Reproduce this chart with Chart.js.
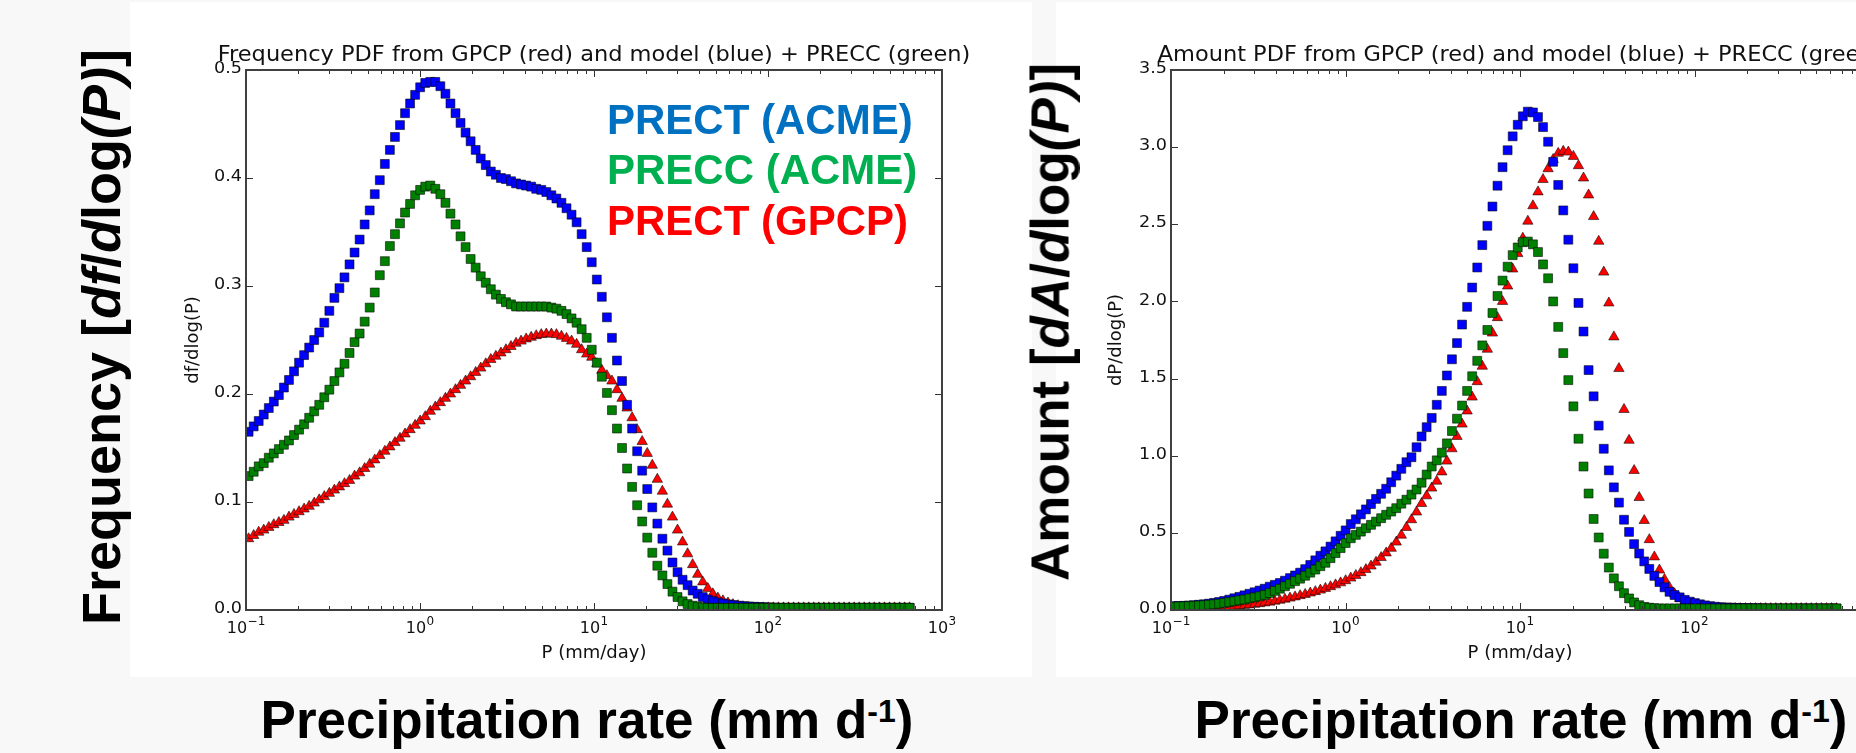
<!DOCTYPE html>
<html>
<head>
<meta charset="utf-8">
<script src="https://cdn.jsdelivr.net/npm/chart.js@4.4.0/dist/chart.umd.min.js"></script>
<style>
  html, body { margin: 0; padding: 0; width: 1856px; height: 753px; overflow: hidden; background: #f8f8f8; }
  .panel { position: absolute; background: #fff; }
  canvas { position: absolute; top: 0; }
  .big { position: absolute; font-family: 'Liberation Sans', Arial, sans-serif; font-weight: bold; line-height: 1; white-space: nowrap; color: #000; }
  .vert { transform: translate(-50%, -50%) rotate(-90deg); }
  .xlab { transform: translateX(-50%); }
  .big sup { font-size: 32px; vertical-align: 16px; line-height: 0; }
  .key { position: absolute; font-family: 'Liberation Sans', Arial, sans-serif; font-weight: bold; font-size: 42px; line-height: 1; white-space: nowrap; }
</style>
</head>
<body>
<div class="panel" style="left:130px; top:2px; width:902px; height:675px"></div>
<div class="panel" style="left:1056px; top:2px; width:800px; height:675px"></div>
<canvas id="freq" width="902" height="677" style="left:130px"></canvas>
<canvas id="amt" width="850" height="677" style="left:1056px"></canvas>

<div class="big vert" style="left:101px; top:337px; font-size:54px">Frequency [<i>df</i>/<i>d</i>log<i>(P)</i>]</div>
<div class="big vert" style="left:1050px; top:322px; font-size:53px">Amount [<i>dA</i>/<i>d</i>log<i>(P)</i>]</div>
<div class="big xlab" style="left:587px; top:693px; font-size:53px">Precipitation rate (mm d<sup>-1</sup>)</div>
<div class="big xlab" style="left:1521px; top:693px; font-size:53px">Precipitation rate (mm d<sup>-1</sup>)</div>

<div class="key" style="left:607px; top:99px; color:#0070C0">PRECT (ACME)</div>
<div class="key" style="left:607px; top:149px; color:#00B050">PRECC (ACME)</div>
<div class="key" style="left:607px; top:200px; color:#FF0000">PRECT (GPCP)</div>

<script>
// bin centres, mm/day
const pRate = [0.1035,0.1107,0.1183,0.1265,0.1352,0.1445,0.1545,0.1652,0.1766,0.1888,
  0.2018,0.2158,0.2307,0.2466,0.2636,0.2818,0.3013,0.3221,0.3443,0.3681,
  0.3936,0.4207,0.4498,0.4808,0.5140,0.5495,0.5875,0.6281,0.6714,0.7178,
  0.7674,0.8204,0.8770,0.9376,1.002,1.072,1.146,1.225,1.309,1.400,
  1.496,1.600,1.710,1.828,1.954,2.089,2.234,2.388,2.553,2.729,
  2.917,3.119,3.334,3.565,3.811,4.074,4.355,4.656,4.977,5.321,
  5.689,6.081,6.501,6.950,7.430,7.943,8.492,9.078,9.705,10.38,
  11.09,11.86,12.68,13.55,14.49,15.49,16.56,17.70,18.92,20.23,
  21.63,23.12,24.72,26.42,28.25,30.20,32.29,34.51,36.90,39.45,
  42.17,45.08,48.20,51.52,55.08,58.88,62.95,67.30,71.94,76.91,
  82.22,87.90,93.97,100.5,107.4,114.8,122.7,131.2,140.3,150.0,
  160.3,171.4,183.2,195.9,209.4,223.9,239.3,255.9,273.5,292.4,
  312.6,334.2,357.3,381.9,408.3,436.5,466.7,498.9,533.3,570.2,
  609.5,651.6];

// frequency pdf, df/dlog(P)
const freqPrectAcme = [0.165,0.170,0.175,0.181,0.187,0.193,0.199,0.206,0.213,0.221,
  0.229,0.236,0.243,0.250,0.257,0.266,0.277,0.289,0.298,0.308,
  0.320,0.331,0.343,0.357,0.370,0.385,0.398,0.413,0.426,0.438,
  0.449,0.460,0.469,0.477,0.484,0.488,0.489,0.489,0.485,0.478,
  0.469,0.460,0.451,0.442,0.434,0.426,0.418,0.412,0.406,0.403,
  0.400,0.399,0.397,0.395,0.394,0.393,0.392,0.390,0.389,0.387,
  0.384,0.381,0.377,0.372,0.366,0.359,0.348,0.336,0.322,0.306,
  0.290,0.271,0.252,0.231,0.212,0.190,0.168,0.147,0.129,0.112,
  0.095,0.080,0.066,0.055,0.044,0.035,0.028,0.023,0.018,0.015,
  0.012,0.0098,0.0082,0.0070,0.0060,0.0052,0.0046,0.0040,0.0036,0.0033,
  0.0030,0.0028,0.0026,0.0024,0.0022,0.0020,0.0020,0.0020,0.0020,0.0020,
  0.0020,0.0020,0.0020,0.0020,0.0020,0.0020,0.0020,0.0020,0.0020,0.0020,
  0.0020,0.0020,0.0020,0.0020,0.0020,0.0020,0.0020,0.0020,0.0020,0.0020,
  0.0020,0.0020];
const freqPreccAcme = [0.124,0.128,0.133,0.136,0.141,0.145,0.149,0.153,0.157,0.162,
  0.167,0.172,0.178,0.184,0.190,0.197,0.204,0.212,0.220,0.228,
  0.238,0.248,0.256,0.267,0.280,0.294,0.310,0.323,0.337,0.348,
  0.358,0.368,0.376,0.384,0.389,0.392,0.393,0.390,0.385,0.377,
  0.367,0.357,0.346,0.336,0.325,0.317,0.309,0.303,0.297,0.292,
  0.288,0.285,0.283,0.281,0.281,0.281,0.281,0.281,0.281,0.281,
  0.280,0.279,0.277,0.274,0.270,0.266,0.260,0.252,0.241,0.229,
  0.216,0.201,0.185,0.168,0.150,0.131,0.114,0.097,0.082,0.067,
  0.053,0.041,0.032,0.024,0.017,0.012,0.008,0.0055,0.0040,0.0030,
  0.0025,0.0020,0.0020,0.0020,0.0020,0.0020,0.0020,0.0020,0.0020,0.0020,
  0.0020,0.0020,0.0020,0.0020,0.0020,0.0020,0.0020,0.0020,0.0020,0.0020,
  0.0020,0.0020,0.0020,0.0020,0.0020,0.0020,0.0020,0.0020,0.0020,0.0020,
  0.0020,0.0020,0.0020,0.0020,0.0020,0.0020,0.0020,0.0020,0.0020,0.0020,
  0.0020,0.0020];
const freqPrectGpcp = [0.066,0.069,0.072,0.074,0.0765,0.079,0.081,0.083,0.086,0.0885,
  0.091,0.0935,0.096,0.099,0.102,0.105,0.108,0.111,0.114,0.117,
  0.120,0.124,0.127,0.131,0.135,0.139,0.143,0.147,0.151,0.155,
  0.159,0.163,0.167,0.171,0.175,0.179,0.184,0.188,0.192,0.196,
  0.200,0.204,0.208,0.212,0.216,0.220,0.224,0.228,0.232,0.235,
  0.238,0.241,0.244,0.247,0.249,0.251,0.2525,0.254,0.255,0.2555,
  0.2555,0.255,0.2535,0.2515,0.249,0.246,0.241,0.237,0.234,0.228,
  0.222,0.217,0.212,0.204,0.196,0.187,0.178,0.167,0.156,0.145,
  0.134,0.121,0.110,0.098,0.086,0.074,0.063,0.052,0.042,0.033,
  0.026,0.020,0.015,0.011,0.0085,0.0065,0.0050,0.0040,0.0030,0.0025,
  0.0020,0.0020,0.0020,0.0020,0.0020,0.0020,0.0020,0.0020,0.0020,0.0020,
  0.0020,0.0020,0.0020,0.0020,0.0020,0.0020,0.0020,0.0020,0.0020,0.0020,
  0.0020,0.0020,0.0020,0.0020,0.0020,0.0020,0.0020,0.0020,0.0020,0.0020,
  0.0020,0.0020];

// amount pdf, dP/dlog(P)
const amtPrectAcme = [0.025,0.026,0.027,0.029,0.031,0.034,0.037,0.041,0.046,0.052,
  0.059,0.067,0.076,0.085,0.095,0.105,0.115,0.126,0.138,0.151,
  0.163,0.175,0.190,0.207,0.224,0.242,0.265,0.292,0.322,0.352,
  0.380,0.411,0.445,0.481,0.516,0.557,0.588,0.620,0.652,0.687,
  0.720,0.753,0.786,0.828,0.871,0.915,0.958,0.990,1.055,1.125,
  1.185,1.245,1.330,1.420,1.520,1.625,1.730,1.850,1.965,2.090,
  2.220,2.365,2.490,2.615,2.750,2.870,2.980,3.070,3.145,3.200,
  3.230,3.225,3.195,3.130,3.035,2.905,2.755,2.590,2.400,2.215,
  1.990,1.805,1.555,1.385,1.195,1.045,0.905,0.795,0.696,0.585,
  0.506,0.427,0.366,0.315,0.266,0.221,0.181,0.147,0.118,0.097,
  0.082,0.066,0.054,0.045,0.037,0.030,0.025,0.021,0.018,0.016,
  0.015,0.014,0.013,0.012,0.012,0.011,0.011,0.010,0.010,0.010,
  0.010,0.010,0.010,0.010,0.010,0.010,0.010,0.010,0.010,0.010,
  0.010,0.010];
const amtPreccAcme = [0.022,0.023,0.024,0.025,0.027,0.029,0.031,0.034,0.037,0.041,
  0.046,0.051,0.057,0.063,0.068,0.075,0.082,0.089,0.098,0.110,
  0.124,0.138,0.154,0.170,0.187,0.203,0.222,0.242,0.262,0.284,
  0.306,0.336,0.369,0.401,0.434,0.465,0.487,0.508,0.530,0.552,
  0.573,0.595,0.617,0.638,0.660,0.689,0.715,0.748,0.781,0.825,
  0.878,0.930,0.970,1.020,1.080,1.160,1.240,1.325,1.420,1.515,
  1.615,1.715,1.815,1.925,2.035,2.135,2.225,2.300,2.350,2.384,
  2.388,2.370,2.320,2.240,2.150,2.000,1.835,1.665,1.490,1.320,
  1.110,0.930,0.755,0.590,0.470,0.365,0.275,0.205,0.154,0.109,
  0.075,0.049,0.031,0.020,0.015,0.012,0.010,0.010,0.010,0.010,
  0.010,0.010,0.010,0.010,0.010,0.010,0.010,0.010,0.010,0.010,
  0.010,0.010,0.010,0.010,0.010,0.010,0.010,0.010,0.010,0.010,
  0.010,0.010,0.010,0.010,0.010,0.010,0.010,0.010,0.010,0.010,
  0.010,0.010];
const amtPrectGpcp = [0.003,0.004,0.005,0.007,0.009,0.011,0.013,0.015,0.017,0.018,
  0.020,0.022,0.024,0.027,0.030,0.033,0.037,0.041,0.046,0.051,
  0.057,0.063,0.070,0.077,0.085,0.093,0.101,0.110,0.119,0.129,
  0.140,0.151,0.163,0.176,0.190,0.207,0.224,0.242,0.262,0.285,
  0.310,0.340,0.370,0.400,0.440,0.485,0.535,0.585,0.635,0.690,
  0.740,0.790,0.835,0.895,0.965,1.045,1.125,1.205,1.290,1.380,
  1.480,1.580,1.690,1.795,1.895,2.000,2.100,2.210,2.310,2.410,
  2.520,2.620,2.710,2.790,2.860,2.920,2.960,2.973,2.968,2.940,
  2.880,2.800,2.690,2.550,2.390,2.190,1.990,1.770,1.565,1.300,
  1.100,0.904,0.729,0.580,0.456,0.344,0.259,0.198,0.145,0.105,
  0.075,0.053,0.037,0.026,0.019,0.014,0.011,0.009,0.009,0.009,
  0.009,0.009,0.009,0.009,0.009,0.009,0.009,0.009,0.009,0.009,
  0.009,0.009,0.009,0.009,0.009,0.009,0.009,0.009,0.009,0.009,
  0.009,0.009];

const decadeTicks = [0.1, 1, 10, 100, 1000];
const decadeExps = ['\u22121', '0', '1', '2', '3'];

const FONT = "'DejaVu Sans', sans-serif";
const INK = '#111';
const GREEN = '#008000', BLUE = '#0000ff', RED = '#ff0000';
const STRETCH = 1.1; // the source figure's text is a little wider than tall

// matplotlib-classic look: box frame, inward ticks on all sides, tick labels, title
const innerTicks = {
  id: 'innerTicks',
  afterDraw(chart, args, opts) {
    const {ctx, chartArea: a, scales: {x, y}} = chart;
    ctx.save();
    ctx.strokeStyle = '#333';
    ctx.lineWidth = 1;
    ctx.beginPath();
    y.ticks.forEach((t) => {
      const py = Math.round(y.getPixelForValue(t.value)) + 0.5;
      ctx.moveTo(a.left, py); ctx.lineTo(a.left + 7, py);
      ctx.moveTo(a.right, py); ctx.lineTo(a.right - 7, py);
    });
    for (let d = -1; d <= 3; d++) {
      for (let m = 1; m < 10; m++) {
        if (d === 3 && m > 1) break;
        const px = Math.round(x.getPixelForValue(m * Math.pow(10, d))) + 0.5;
        const len = m === 1 ? 7 : 4;
        ctx.moveTo(px, a.bottom); ctx.lineTo(px, a.bottom - len);
        ctx.moveTo(px, a.top); ctx.lineTo(px, a.top + len);
      }
    }
    ctx.stroke();
    ctx.lineWidth = 2;
    ctx.strokeStyle = '#404040';
    ctx.strokeRect(a.left, a.top, a.right - a.left, a.bottom - a.top);

    ctx.fillStyle = INK;

    // y tick labels
    ctx.font = '16px ' + FONT;
    ctx.textAlign = 'right';
    ctx.textBaseline = 'middle';
    y.ticks.forEach((t) => {
      ctx.save();
      ctx.translate(a.left - 4, y.getPixelForValue(t.value) - 1);
      ctx.scale(STRETCH, 1);
      ctx.fillText(t.value.toFixed(1), 0, 0);
      ctx.restore();
    });

    // x tick labels as 10^n
    ctx.textBaseline = 'alphabetic';
    ctx.textAlign = 'left';
    decadeTicks.forEach((v, k) => {
      const px = x.getPixelForValue(v);
      ctx.font = '16px ' + FONT;
      const w1 = ctx.measureText('10').width;
      ctx.font = '12px ' + FONT;
      const w2 = ctx.measureText(decadeExps[k]).width;
      const x0 = px - (w1 + w2 + 0.5) / 2;
      ctx.font = '16px ' + FONT;
      ctx.fillText('10', x0, a.bottom + 23);
      ctx.font = '12px ' + FONT;
      ctx.fillText(decadeExps[k], x0 + w1 + 0.5, a.bottom + 15);
    });

    // title
    ctx.font = '21px ' + FONT;
    ctx.textAlign = 'center';
    ctx.translate((a.left + a.right) / 2, a.top - 9);
    ctx.scale(1.07, 1);
    ctx.fillText(opts.title, 0, 0);
    ctx.restore();
  },
};

function pts(ys) {
  return pRate.map((x, i) => ({x, y: ys[i]}));
}

function series(label, ys, color, style, r) {
  return {
    label,
    data: pts(ys),
    showLine: false,
    pointStyle: style,
    pointRadius: r,
    pointBackgroundColor: color,
    pointBorderColor: 'rgba(0,0,0,0.55)',
    pointBorderWidth: 1,
  };
}

function makeChart(id, o) {
  return new Chart(document.getElementById(id), {
    type: 'scatter',
    data: { datasets: o.datasets },
    options: {
      responsive: false,
      animation: false,
      events: [],
      layout: { padding: { left: 0, right: o.padRight, top: 70, bottom: 0 } },
      plugins: {
        legend: { display: false },
        tooltip: { enabled: false },
        title: { display: false },
        innerTicks: { title: o.title },
      },
      scales: {
        x: {
          type: 'logarithmic', min: 0.1, max: 1000,
          afterBuildTicks: (s) => { s.ticks = decadeTicks.map((v) => ({ value: v })); },
          afterFit: (s) => { s.height = 67; },
          grid: { display: false, drawTicks: false },
          border: { display: false },
          ticks: { display: false },
          title: {
            display: true, text: 'P (mm/day)', color: INK,
            font: { family: FONT, size: 18 }, padding: { top: 0, bottom: 13 },
          },
        },
        y: {
          min: 0, max: o.yMax,
          afterFit: (s) => { s.width = o.yWidth; },
          grid: { display: false, drawTicks: false },
          border: { display: false },
          ticks: { display: false, stepSize: o.yStep },
          title: {
            display: true, text: o.yTitle, color: INK,
            font: { family: FONT, size: 18 }, padding: { top: o.yTitlePad, bottom: 0 },
          },
        },
      },
    },
    plugins: [innerTicks],
  });
}

makeChart('freq', {
  title: 'Frequency PDF from GPCP (red) and model (blue) + PRECC (green)',
  yTitle: 'df/dlog(P)', yMax: 0.5, yStep: 0.1,
  yWidth: 116, padRight: 90, yTitlePad: 53,
  datasets: [
    series('PRECC (ACME)', freqPreccAcme, GREEN, 'rect', 6.3),
    series('PRECT (ACME)', freqPrectAcme, BLUE, 'rect', 6.3),
    series('PRECT (GPCP)', freqPrectGpcp, RED, 'triangle', 6),
  ],
});

makeChart('amt', {
  title: 'Amount PDF from GPCP (red) and model (blue) + PRECC (green)',
  yTitle: 'dP/dlog(P)', yMax: 3.5, yStep: 0.5,
  yWidth: 115, padRight: 37, yTitlePad: 50,
  datasets: [
    series('PRECC (ACME)', amtPreccAcme, GREEN, 'rect', 6.3),
    series('PRECT (ACME)', amtPrectAcme, BLUE, 'rect', 6.3),
    series('PRECT (GPCP)', amtPrectGpcp, RED, 'triangle', 6),
  ],
});
</script>
</body>
</html>
